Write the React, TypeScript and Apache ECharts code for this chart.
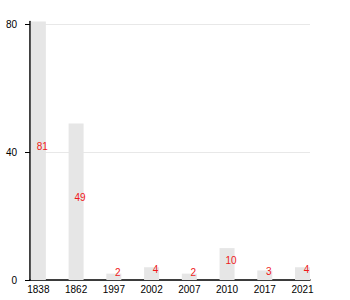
import React, { useEffect, useRef } from "react";
import * as echarts from "echarts";

const categories = ["1838", "1862", "1997", "2002", "2007", "2010", "2017", "2021"];
const values = [81, 49, 2, 4, 2, 10, 3, 4];
const yTicks = [0, 40, 80];

export default function App() {
  const ref = useRef<HTMLDivElement>(null);
  useEffect(() => {
    if (!ref.current) return;
    const chart = echarts.init(ref.current, null, { renderer: "svg" });
    const font = "Liberation Sans, Arial, sans-serif";
    const yMax = Math.max(...values);
    chart.setOption({
      animation: false,
      textStyle: { fontFamily: font },
      grid: [
        { left: 30, right: 40, top: 21.5, bottom: 20 },
        { left: 19.5, right: 28.6, top: 21.5, bottom: 20 },
      ],
      xAxis: [
        {
          gridIndex: 0,
          type: "value",
          min: 0,
          max: 1,
          axisLine: { show: true, lineStyle: { color: "#000", width: 1.5 } },
          axisTick: { show: false },
          axisLabel: { show: false },
          splitLine: { show: false },
        },
        {
          gridIndex: 1,
          type: "category",
          data: categories,
          axisLine: { show: false },
          axisTick: { show: false },
          axisLabel: { color: "#000", fontSize: 10, margin: 4, fontFamily: font },
        },
      ],
      yAxis: [
        {
          gridIndex: 0,
          type: "value",
          min: 0,
          max: yMax,
          interval: 40,
          axisLine: { show: true, lineStyle: { color: "#000", width: 1.5 } },
          axisTick: { show: true, length: 5, customValues: yTicks, lineStyle: { color: "#000" } },
          axisLabel: { color: "#000", fontSize: 10, margin: 13, customValues: yTicks, fontFamily: font },
          splitLine: { show: true, lineStyle: { color: "#e8e8e8", width: 1 } },
        },
        {
          gridIndex: 1,
          type: "value",
          min: 0,
          max: yMax,
          show: false,
          splitLine: { show: false },
        },
      ],
      series: [
        {
          type: "bar",
          xAxisIndex: 1,
          yAxisIndex: 1,
          data: values,
          barWidth: 15,
          itemStyle: { color: "#e6e6e6" },
          label: {
            show: true,
            position: "inside",
            offset: [4, -4],
            color: "#f01818",
            fontSize: 10,
            fontFamily: font,
          },
        },
      ],
    });
    return () => chart.dispose();
  }, []);
  return <div ref={ref} style={{ width: 350, height: 300, position: "absolute", left: 0, top: 0 }} />;
}
